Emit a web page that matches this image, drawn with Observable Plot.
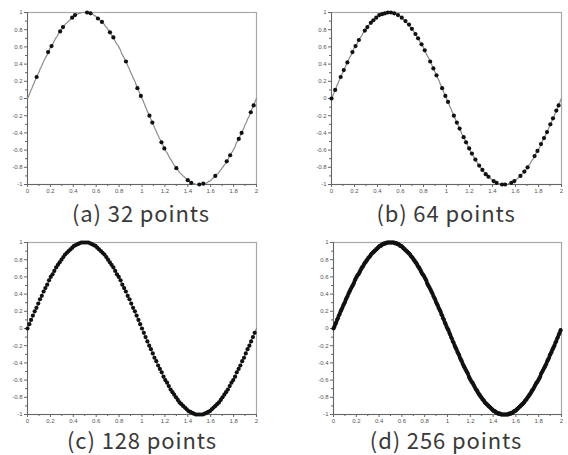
<!DOCTYPE html>
<html>
<head>
<meta charset="utf-8">
<script src="https://cdn.jsdelivr.net/npm/d3@7"></script>
<script src="https://cdn.jsdelivr.net/npm/@observablehq/plot@0.6"></script>
<style>
  html, body { margin: 0; padding: 0; background: #fff; }
  #wrap { position: relative; width: 568px; height: 455px; }
  .panel { position: absolute; }
  .cap { position: absolute; width: 240px; text-align: center; font-family: "Noto Sans CJK JP", "Noto Sans", sans-serif; font-size: 22px; line-height: 22px; letter-spacing: 0.9px; color: #3a3a3a; white-space: nowrap; }
</style>
</head>
<body>
<div id="wrap"></div>
<script>
// ---- tick labels ----
const xTicks = [0, 0.2, 0.4, 0.6, 0.8, 1, 1.2, 1.4, 1.6, 1.8, 2];
const xMinor = [0.1, 0.3, 0.5, 0.7, 0.9, 1.1, 1.3, 1.5, 1.7, 1.9];
const yTicks = [-1, -0.8, -0.6, -0.4, -0.2, 0, 0.2, 0.4, 0.6, 0.8, 1];
const yMinor = [-0.9, -0.7, -0.5, -0.3, -0.1, 0.1, 0.3, 0.5, 0.7, 0.9];
const captions = ["(a) 32 points", "(b) 64 points", "(c) 128 points", "(d) 256 points"];

// ---- (a) 32 samples ----
const a32x = [0.08,0.18,0.21,0.285,0.31,0.39,0.415,0.52,0.55,0.615,0.65,0.72,0.75,0.86,0.96,0.99,1.065,1.09,1.17,1.195,1.30,1.40,1.43,1.50,1.535,1.64,1.74,1.77,1.845,1.87,1.95,1.975];
const a32y = [0.25,0.54,0.61,0.78,0.83,0.94,0.97,1.00,0.99,0.93,0.89,0.77,0.71,0.43,0.12,0.03,-0.20,-0.28,-0.51,-0.58,-0.81,-0.95,-0.98,-1.00,-0.99,-0.90,-0.73,-0.66,-0.47,-0.40,-0.16,-0.08];

// ---- (b) 64 samples ----
const b64x = [0,0.032,0.08,0.107,0.138,0.182,0.209,0.238,0.29,0.312,0.342,0.364,0.389,0.415,0.44,0.465,0.49,0.517,0.545,0.578,0.611,0.643,0.674,0.699,0.73,0.753,0.783,0.811,0.858,0.886,0.913,0.962,0.99,1.013,1.064,1.09,1.114,1.149,1.17,1.197,1.221,1.251,1.284,1.312,1.341,1.365,1.41,1.435,1.483,1.51,1.564,1.59,1.643,1.677,1.705,1.766,1.791,1.822,1.848,1.874,1.903,1.926,1.955,1.975];
const b64y = [0,0.10,0.25,0.33,0.42,0.54,0.61,0.68,0.79,0.83,0.88,0.91,0.94,0.97,0.98,0.99,1.00,1.00,0.99,0.97,0.94,0.90,0.86,0.81,0.75,0.70,0.63,0.56,0.43,0.35,0.27,0.12,0.03,-0.04,-0.20,-0.28,-0.35,-0.45,-0.51,-0.58,-0.64,-0.71,-0.78,-0.83,-0.88,-0.91,-0.96,-0.98,-1.00,-1.00,-0.98,-0.96,-0.90,-0.85,-0.80,-0.67,-0.61,-0.53,-0.46,-0.39,-0.30,-0.23,-0.14,-0.08];

// ---- (c) 128 samples ----
const c128x = [
0,.016,.031,.047,.063,.078,.094,.109,.125,.141,.156,.172,.188,.203,.219,.234,
.25,.266,.281,.297,.313,.328,.344,.359,.375,.391,.406,.422,.438,.453,.469,.484,
.5,.516,.531,.547,.563,.578,.594,.609,.625,.641,.656,.672,.688,.703,.719,.734,
.75,.766,.781,.797,.813,.828,.844,.859,.875,.891,.906,.922,.938,.953,.969,.984,
1,1.016,1.031,1.047,1.063,1.078,1.094,1.109,1.125,1.141,1.156,1.172,1.188,1.203,1.219,1.234,
1.25,1.266,1.281,1.297,1.313,1.328,1.344,1.359,1.375,1.391,1.406,1.422,1.438,1.453,1.469,1.484,
1.5,1.516,1.531,1.547,1.563,1.578,1.594,1.609,1.625,1.641,1.656,1.672,1.688,1.703,1.719,1.734,
1.75,1.766,1.781,1.797,1.813,1.828,1.844,1.859,1.875,1.891,1.906,1.922,1.938,1.953,1.969,1.984];
const c128y = [
0.00,0.05,0.10,0.15,0.20,0.24,0.29,0.34,0.38,0.43,0.47,0.51,0.56,0.60,0.63,0.67,
0.71,0.74,0.77,0.80,0.83,0.86,0.88,0.90,0.92,0.94,0.96,0.97,0.98,0.99,1.00,1.00,
1.00,1.00,1.00,0.99,0.98,0.97,0.96,0.94,0.92,0.90,0.88,0.86,0.83,0.80,0.77,0.74,
0.71,0.67,0.63,0.60,0.56,0.51,0.47,0.43,0.38,0.34,0.29,0.24,0.20,0.15,0.10,0.05,
-0.00,-0.05,-0.10,-0.15,-0.20,-0.24,-0.29,-0.34,-0.38,-0.43,-0.47,-0.51,-0.56,-0.60,-0.63,-0.67,
-0.71,-0.74,-0.77,-0.80,-0.83,-0.86,-0.88,-0.90,-0.92,-0.94,-0.96,-0.97,-0.98,-0.99,-1.00,-1.00,
-1.00,-1.00,-1.00,-0.99,-0.98,-0.97,-0.96,-0.94,-0.92,-0.90,-0.88,-0.86,-0.83,-0.80,-0.77,-0.74,
-0.71,-0.67,-0.63,-0.60,-0.56,-0.51,-0.47,-0.43,-0.38,-0.34,-0.29,-0.24,-0.20,-0.15,-0.10,-0.05];

// ---- (d) 256 samples ----
const d256x = [
0,.008,.016,.023,.031,.039,.047,.055,.063,.070,.078,.086,.094,.102,.109,.117,
.125,.133,.141,.148,.156,.164,.172,.180,.188,.195,.203,.211,.219,.227,.234,.242,
.25,.258,.266,.273,.281,.289,.297,.305,.313,.320,.328,.336,.344,.352,.359,.367,
.375,.383,.391,.398,.406,.414,.422,.430,.438,.445,.453,.461,.469,.477,.484,.492,
.5,.508,.516,.523,.531,.539,.547,.555,.563,.570,.578,.586,.594,.602,.609,.617,
.625,.633,.641,.648,.656,.664,.672,.680,.688,.695,.703,.711,.719,.727,.734,.742,
.75,.758,.766,.773,.781,.789,.797,.805,.813,.820,.828,.836,.844,.852,.859,.867,
.875,.883,.891,.898,.906,.914,.922,.930,.938,.945,.953,.961,.969,.977,.984,.992,
1,1.008,1.016,1.023,1.031,1.039,1.047,1.055,1.063,1.070,1.078,1.086,1.094,1.102,1.109,1.117,
1.125,1.133,1.141,1.148,1.156,1.164,1.172,1.180,1.188,1.195,1.203,1.211,1.219,1.227,1.234,1.242,
1.25,1.258,1.266,1.273,1.281,1.289,1.297,1.305,1.313,1.320,1.328,1.336,1.344,1.352,1.359,1.367,
1.375,1.383,1.391,1.398,1.406,1.414,1.422,1.430,1.438,1.445,1.453,1.461,1.469,1.477,1.484,1.492,
1.5,1.508,1.516,1.523,1.531,1.539,1.547,1.555,1.563,1.570,1.578,1.586,1.594,1.602,1.609,1.617,
1.625,1.633,1.641,1.648,1.656,1.664,1.672,1.680,1.688,1.695,1.703,1.711,1.719,1.727,1.734,1.742,
1.75,1.758,1.766,1.773,1.781,1.789,1.797,1.805,1.813,1.820,1.828,1.836,1.844,1.852,1.859,1.867,
1.875,1.883,1.891,1.898,1.906,1.914,1.922,1.930,1.938,1.945,1.953,1.961,1.969,1.977,1.984,1.992];
const d256y = [
0.00,0.02,0.05,0.07,0.10,0.12,0.15,0.17,0.20,0.22,0.24,0.27,0.29,0.31,0.34,0.36,
0.38,0.41,0.43,0.45,0.47,0.49,0.51,0.53,0.56,0.58,0.60,0.62,0.63,0.65,0.67,0.69,
0.71,0.72,0.74,0.76,0.77,0.79,0.80,0.82,0.83,0.84,0.86,0.87,0.88,0.89,0.90,0.91,
0.92,0.93,0.94,0.95,0.96,0.96,0.97,0.98,0.98,0.99,0.99,0.99,1.00,1.00,1.00,1.00,
1.00,1.00,1.00,1.00,1.00,0.99,0.99,0.99,0.98,0.98,0.97,0.96,0.96,0.95,0.94,0.93,
0.92,0.91,0.90,0.89,0.88,0.87,0.86,0.84,0.83,0.82,0.80,0.79,0.77,0.76,0.74,0.72,
0.71,0.69,0.67,0.65,0.63,0.62,0.60,0.58,0.56,0.53,0.51,0.49,0.47,0.45,0.43,0.41,
0.38,0.36,0.34,0.31,0.29,0.27,0.24,0.22,0.20,0.17,0.15,0.12,0.10,0.07,0.05,0.02,
-0.00,-0.02,-0.05,-0.07,-0.10,-0.12,-0.15,-0.17,-0.20,-0.22,-0.24,-0.27,-0.29,-0.31,-0.34,-0.36,
-0.38,-0.41,-0.43,-0.45,-0.47,-0.49,-0.51,-0.53,-0.56,-0.58,-0.60,-0.62,-0.63,-0.65,-0.67,-0.69,
-0.71,-0.72,-0.74,-0.76,-0.77,-0.79,-0.80,-0.82,-0.83,-0.84,-0.86,-0.87,-0.88,-0.89,-0.90,-0.91,
-0.92,-0.93,-0.94,-0.95,-0.96,-0.96,-0.97,-0.98,-0.98,-0.99,-0.99,-0.99,-1.00,-1.00,-1.00,-1.00,
-1.00,-1.00,-1.00,-1.00,-1.00,-0.99,-0.99,-0.99,-0.98,-0.98,-0.97,-0.96,-0.96,-0.95,-0.94,-0.93,
-0.92,-0.91,-0.90,-0.89,-0.88,-0.87,-0.86,-0.84,-0.83,-0.82,-0.80,-0.79,-0.77,-0.76,-0.74,-0.72,
-0.71,-0.69,-0.67,-0.65,-0.63,-0.62,-0.60,-0.58,-0.56,-0.53,-0.51,-0.49,-0.47,-0.45,-0.43,-0.41,
-0.38,-0.36,-0.34,-0.31,-0.29,-0.27,-0.24,-0.22,-0.20,-0.17,-0.15,-0.12,-0.10,-0.07,-0.05,-0.02];

// closing point of the underlying continuous curve
const curveEndX = 2;
const curveEndY = -0.0;

const zip = (xs, ys) => xs.map((x, i) => ({x, y: ys[i]}));
const curve = zip(d256x.concat([curveEndX]), d256y.concat([curveEndY]));

const panels = [
  {pts: zip(a32x, a32y),   left: 0,   top: 0,   width: 284, mR: 28, capX: 141, capY: 201},
  {pts: zip(b64x, b64y),   left: 304, top: 0,   width: 264, mR: 7,  capX: 446, capY: 201},
  {pts: zip(c128x, c128y), left: 0,   top: 230, width: 284, mR: 28, capX: 142, capY: 428},
  {pts: zip(d256x, d256y), left: 306, top: 230, width: 262, mR: 7,  capX: 446, capY: 428}
];

const wrap = document.getElementById("wrap");
const fmt = d => String(d);

panels.forEach((p, k) => {
  const chart = Plot.plot({
    width: p.width,
    height: 200,
    marginLeft: 27,
    marginRight: p.mR,
    marginTop: 12,
    marginBottom: 16,
    x: {domain: [0, 2], label: null},
    y: {domain: [-1, 1], label: null},
    style: {fontFamily: "Liberation Sans, Arial, sans-serif", fontSize: "6px", color: "#555", background: "transparent"},
    marks: [
      Plot.frame({stroke: "#a8a8a8", strokeWidth: 1.2}),
      Plot.axisX({ticks: xMinor, tickSize: 2, tickFormat: () => "", label: null, stroke: "#666"}),
      Plot.axisY({ticks: yMinor, tickSize: 2, tickFormat: () => "", label: null, stroke: "#666"}),
      Plot.axisX({ticks: xTicks, tickSize: 3, tickPadding: 1, tickFormat: fmt, label: null, stroke: "#666"}),
      Plot.axisY({ticks: yTicks, tickSize: 3, tickPadding: 2, tickFormat: fmt, label: null, stroke: "#666"}),
      Plot.ruleY([-1], {stroke: "#666", strokeWidth: 1}),
      Plot.ruleX([0], {stroke: "#666", strokeWidth: 1}),
      Plot.line(curve, {x: "x", y: "y", stroke: "#8c8c8c", strokeWidth: 1.2}),
      Plot.dot(p.pts, {x: "x", y: "y", r: 2.1, fill: "#111", stroke: "none"})
    ]
  });
  const div = document.createElement("div");
  div.className = "panel";
  div.style.left = p.left + "px";
  div.style.top = p.top + "px";
  div.appendChild(chart);
  wrap.appendChild(div);

  const cap = document.createElement("div");
  cap.className = "cap";
  cap.style.left = (p.capX - 120) + "px";
  cap.style.top = p.capY + "px";
  cap.textContent = captions[k];
  wrap.appendChild(cap);
});
</script>
</body>
</html>
